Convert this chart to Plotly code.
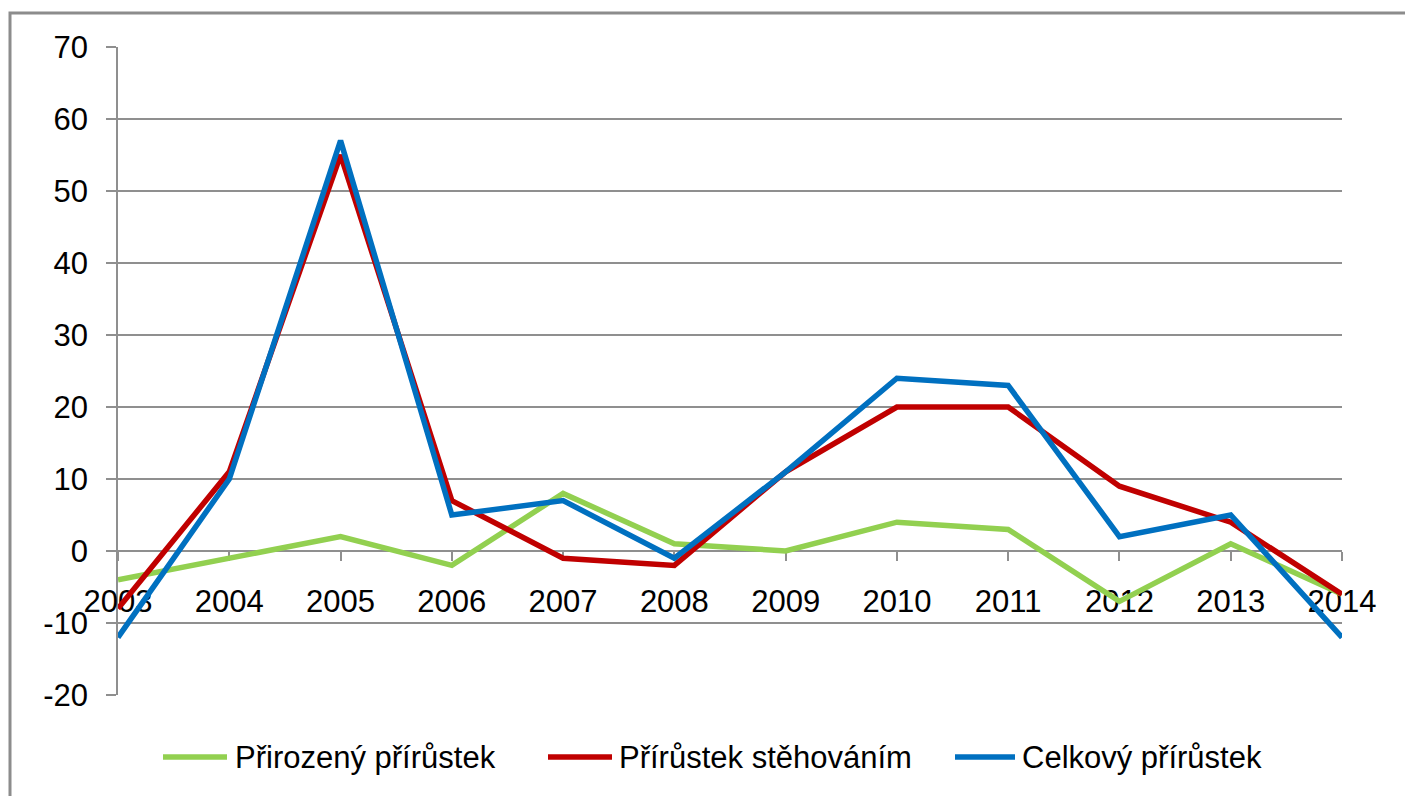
import plotly.graph_objects as go

years = [2003, 2004, 2005, 2006, 2007, 2008, 2009, 2010, 2011, 2012, 2013, 2014]
prirozeny = [-4, -1, 2, -2, 8, 1, 0, 4, 3, -7, 1, -6]
stehovani = [-8, 11, 55, 7, -1, -2, 11, 20, 20, 9, 4, -6]
celkovy = [-12, 10, 57, 5, 7, -1, 11, 24, 23, 2, 5, -12]
names = ["Přirozený přírůstek", "Přírůstek stěhováním", "Celkový přírůstek"]
colors = ["#92D050", "#C00000", "#0070C0"]
series = [prirozeny, stehovani, celkovy]
ytick_vals = [-20, -10, 0, 10, 20, 30, 40, 50, 60, 70]
ytick_text = ["-20", "-10", "0", "10", "20", "30", "40", "50", "60", "70"]

W, H = 1405, 796
L, R, T, B = 118, 1342, 47, 695
pw, ph = R - L, B - T

def px(x):
    return (x - L) / pw

def py(y):
    return (B - y) / ph

fig = go.Figure()
for n, c, s in zip(names, colors, series):
    fig.add_trace(go.Scatter(x=years, y=s, mode="lines", name=n,
                             line=dict(color=c, width=5.5), showlegend=False))

font = "Liberation Sans, Arial, sans-serif"
grid = "#8f8f8f"

fig.update_layout(
    width=W, height=H,
    margin=dict(l=L, r=W - R, t=T, b=H - B),
    paper_bgcolor="white", plot_bgcolor="white",
    font=dict(family=font, color="black"),
    xaxis=dict(range=[2003, 2014], tickvals=years, ticktext=[str(y) for y in years],
               showgrid=False, zeroline=False, showline=True, linecolor=grid, linewidth=1.5,
               ticks="outside", ticklen=9, tickcolor=grid, tickwidth=1.5,
               anchor="free", position=20 / 90, layer="below traces",
               tickfont=dict(size=31, family=font, color="black"), ticklabelstandoff=14),
    yaxis=dict(range=[-20, 70], tickvals=ytick_vals, ticktext=ytick_text,
               showgrid=True, gridcolor=grid, gridwidth=1.5,
               zeroline=False, showline=True, linecolor=grid, linewidth=1.5,
               ticks="outside", ticklen=10, tickcolor=grid, tickwidth=1.5, layer="below traces",
               tickfont=dict(size=31, family=font, color="black"), ticklabelstandoff=12),
)

# outer border
fig.add_shape(type="rect", xref="paper", yref="paper",
              x0=px(10), x1=px(1420), y0=py(810), y1=py(13),
              line=dict(color="#8c8c8c", width=3), fillcolor="rgba(0,0,0,0)")

# legend (manual)
leg_y = py(757)
leg = [(163, 227, 233), (548, 612, 617), (955, 1015, 1020)]
for (x0, x1, tx), n, c in zip(leg, names, colors):
    fig.add_shape(type="line", xref="paper", yref="paper", x0=px(x0), x1=px(x1),
                  y0=leg_y, y1=leg_y, line=dict(color=c, width=5.5))
    fig.add_annotation(xref="paper", yref="paper", x=px(tx), y=leg_y, text=n,
                       showarrow=False, xanchor="left", yanchor="middle",
                       font=dict(size=31, family=font, color="black"))

fig.write_html("out.html", config={"displayModeBar": False},
               post_script="document.body.style.margin='0';document.body.style.overflow='hidden';")
